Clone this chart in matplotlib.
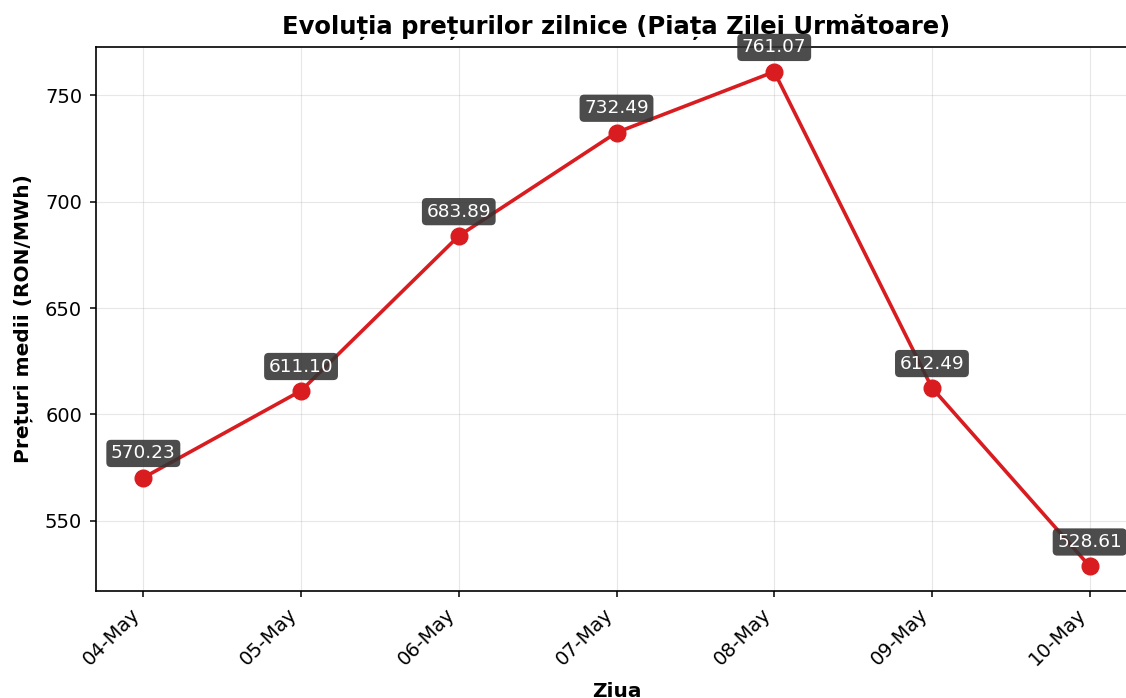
import matplotlib.pyplot as plt

# Date
zile = ['04-May', '05-May', '06-May', '07-May', '08-May', '09-May', '10-May']
preturi = [570.23, 611.10, 683.89, 732.49, 761.07, 612.49, 528.61]

fig = plt.figure(figsize=(11.26, 6.98), dpi=100)
ax = fig.add_axes([96/1126, 1 - 591/698, (1137 - 96)/1126, (591 - 47)/698])

ax.plot(zile, preturi, color='#d91c20', linewidth=2.6, marker='o', markersize=12)

for z, p in zip(zile, preturi):
    ax.annotate(f'{p:.2f}', (z, p), xytext=(0, 11), textcoords='offset points',
                ha='center', va='bottom', fontsize=13.3, color='white',
                bbox=dict(boxstyle='round,pad=0.25', fc='#333333', ec='none', alpha=0.88))

ax.set_title('Evoluția prețurilor zilnice (Piața Zilei Următoare)', fontsize=17.5,
             fontweight='bold', pad=9)
ax.set_xlabel('Ziua', fontsize=14.5, fontweight='bold', labelpad=9)
ax.set_ylabel('Prețuri medii (RON/MWh)', fontsize=14.5, fontweight='bold', labelpad=8.5)
ax.tick_params(labelsize=14, length=4.5, pad=5.5, width=1.1)
plt.setp(ax.get_xticklabels(), rotation=45, ha='right')
ax.grid(True, alpha=0.3)
for s in ['left', 'bottom', 'top']:
    ax.spines[s].set_linewidth(1.2)
ax.spines['right'].set_visible(False)

fig.savefig('out.png', dpi=100)
